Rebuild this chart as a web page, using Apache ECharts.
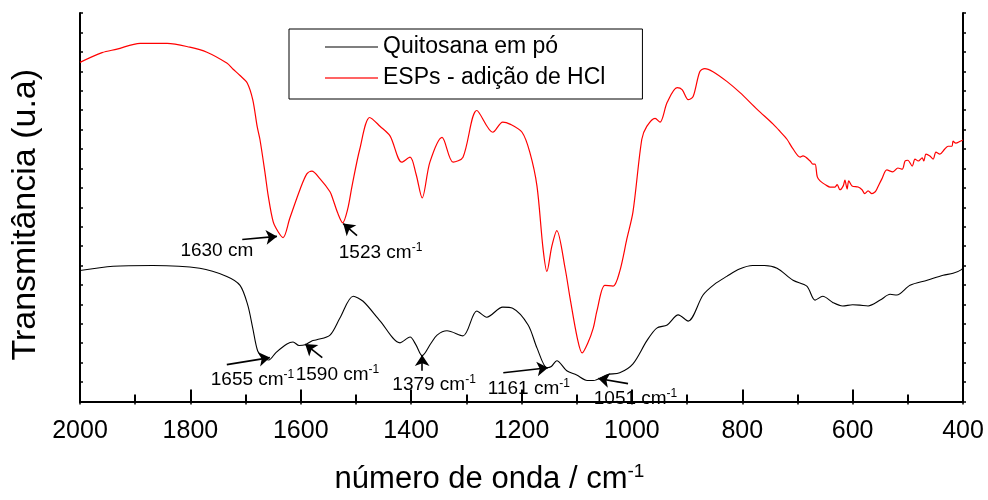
<!DOCTYPE html>
<html>
<head>
<meta charset="utf-8">
<script src="https://cdn.jsdelivr.net/npm/echarts@6/dist/echarts.min.js"></script>
<style>html,body{margin:0;padding:0;background:#fff;}#c{width:988px;height:500px;}</style>
</head>
<body>
<div id="c"></div>
<script>
// ---- data (wavenumber in cm-1, transmittance in arbitrary units) ----
const seriesNames = ['Quitosana em pó', 'ESPs - adição de HCl'];
const xTicks = [2000, 1800, 1600, 1400, 1200, 1000, 800, 600, 400];

const wnBlack = [2000,1940,1868,1783,1734,1710,1696,1687,1678,1668,1658,1645,1625,1614,1603,1592,1580,1571,1547,1529,1505,1487,1456,1420,1402,1391,1380,1364,1353,1335,1306,1281,1263,1234,1216,1188,1172,1154,1146,1136,1118,1100,1081,1070,1045,1022,998,973,955,936,916,898,871,850,828,805,781,760,737,708,683,668,654,636,618,600,587,572,550,532,520,496,465,436,418,402,400];
const tBlack  = [33.7,34.8,35.0,34.3,32.2,29.9,24.8,18.9,13.0,11.2,10.7,12.6,14.8,15.3,14.4,14.6,15.6,15.9,17.1,21.5,27.1,25.8,20.7,15.1,16.6,14.5,11.8,15.0,17.1,18.2,16.9,23.3,21.7,24.3,24.0,19.7,13.8,8.7,9.0,10.5,7.9,6.8,5.4,5.4,6.9,7.4,9.7,15.6,18.9,19.7,22.3,20.7,27.4,30.2,32.2,34.1,35.0,35.0,34.3,31.2,29.7,26.1,27.1,25.5,24.6,24.9,24.8,24.6,26.1,27.6,27.4,29.9,31.2,32.5,33.0,34.0,34.8];

const wnRed = [2000,1960,1933,1891,1842,1801,1770,1734,1723,1710,1697,1687,1679,1674,1665,1659,1650,1641,1632,1620,1601,1589,1580,1565,1547,1542,1533,1524,1515,1507,1493,1475,1456,1438,1417,1402,1391,1380,1366,1344,1324,1306,1281,1252,1234,1221,1199,1185,1172,1161,1154,1145,1136,1121,1112,1099,1090,1080,1070,1063,1049,1034,1022,1009,998,982,973,958,949,936,918,909,898,889,877,868,853,828,804,773,744,732,719,708,695,690,677,672,668,664,659,646,641,632,628,623,617,614,610,607,601,590,583,578,572,565,559,556,547,538,527,518,510,505,500,492,487,481,474,471,467,460,454,449,442,433,427,420,418,413,405,400];
const tRed  = [87.3,89.8,90.7,92.2,92.2,91.2,89.9,87.1,85.6,83.9,82.0,77.7,70.8,67.5,59.1,53.0,46.3,43.7,42.2,47.1,54.7,58.6,59.3,57.3,54.0,52.2,48.5,46.0,49.5,55.5,65.0,73.1,70.8,68.3,61.6,62.9,58.5,52.4,61.6,68.0,61.6,62.9,74.9,69.3,71.9,71.4,69.3,64.2,55.5,39.4,33.5,40.0,44.0,34.3,26.6,16.4,12.5,15.0,18.9,23.5,29.9,29.7,33.5,41.9,48.8,67.5,70.8,72.9,71.9,77.0,80.8,80.3,77.7,78.5,84.9,85.7,84.9,82.4,79.5,75.2,71.4,69.6,67.5,65.0,62.9,63.2,61.9,61.1,61.1,57.8,56.8,55.5,55.2,55.2,55.8,54.5,55.5,57.0,54.7,56.8,55.5,55.2,54.5,53.5,54.2,53.5,54.0,54.7,57.3,59.6,59.1,60.1,59.8,61.9,62.1,60.6,62.4,61.9,62.7,61.9,63.7,63.2,62.4,64.2,63.7,65.0,65.7,65.7,67.0,66.5,67.0,67.3];

// annotations: label text, superscript, text anchor (left edge, middle) and arrow from/to in data units
const annLabels = ['1630 cm', '1523 cm', '1655 cm', '1590 cm', '1379 cm', '1161 cm', '1051 cm'];
const annSup    = ['', '-1', '-1', '-1', '-1', '-1', '-1'];
const annAt     = [[1819,38.9],[1532,38.3],[1764,5.5],[1610,7.0],[1435,4.3],[1262,3.2],[1070,0.6]];
const arrFrom   = [[1706,41.7],[1498,42.7],[1734,9.5],[1561,11.3],[1380,7.9],[1233,7.4],[1007,4.6]];
const arrTo     = [[1643,42.5],[1523,45.8],[1656,11.3],[1592,14.8],[1380,12.0],[1152,8.7],[1061,5.9]];

// ---- build ----
const FONT = 'Liberation Sans, Arial, Helvetica, sans-serif';
const zip = (a, b) => a.map((v, i) => [v, b[i]]);

const chart = echarts.init(document.getElementById('c'), null, {renderer: 'canvas'});

const axisLine = {show: true, lineStyle: {color: '#000', width: 2}};

const option = {
  animation: false,
  backgroundColor: '#fff',
  textStyle: {fontFamily: FONT},
  grid: {left: 80, right: 25, top: 13, bottom: 96, containLabel: false},
  legend: {
    data: [
      {name: seriesNames[0], icon: 'rect', itemStyle: {color: '#555'}},
      {name: seriesNames[1], icon: 'rect', itemStyle: {color: '#ff3030'}}
    ],
    orient: 'vertical',
    left: 289, top: 29,
    borderColor: '#000', borderWidth: 1, borderRadius: 0,
    padding: [5, 37, 8, 36],
    itemWidth: 53, itemHeight: 1.5, itemGap: 5,
    textStyle: {fontSize: 23, lineHeight: 26, color: '#000', fontFamily: FONT},
    selectedMode: false
  },
  xAxis: [{
    type: 'value', position: 'bottom', inverse: true,
    min: 400, max: 2000, interval: 200,
    axisLine: axisLine,
    axisTick: {show: true, inside: true, length: 12, lineStyle: {color: '#000', width: 2}},
    minorTick: {show: true, splitNumber: 2, length: 7, lineStyle: {color: '#000', width: 2}},
    splitLine: {show: false},
    axisLabel: {show: true, fontSize: 25, color: '#000', margin: 17, fontFamily: FONT,
      formatter: v => xTicks.indexOf(v) >= 0 ? String(v) : ''},
    name: '{a|número de onda / cm}{s|-1}',
    nameLocation: 'middle', nameGap: 61,
    nameTextStyle: {color: '#000', padding: [0, 64, 0, 0], rich: {
      a: {fontSize: 31, color: '#000', fontFamily: FONT, lineHeight: 34},
      s: {fontSize: 19, color: '#000', fontFamily: FONT, verticalAlign: 'top', lineHeight: 18}
    }}
  }, {
    type: 'value', position: 'top', inverse: true,
    min: 400, max: 2000, interval: 100,
    axisLine: axisLine,
    axisTick: {show: true, inside: true, length: 3, lineStyle: {color: '#000', width: 1.5}},
    axisLabel: {show: false}, splitLine: {show: false}
  }],
  yAxis: [{
    type: 'value', position: 'left', min: 0, max: 100, interval: 5,
    axisLine: axisLine,
    axisTick: {show: true, inside: true, length: 3, lineStyle: {color: '#000', width: 1.5}},
    axisLabel: {show: false}, splitLine: {show: false},
    name: 'Transmitância (u.a)', nameLocation: 'middle', nameGap: 37, nameRotate: 90,
    nameTextStyle: {fontSize: 34, color: '#000', fontFamily: FONT, padding: [0, 15, 0, 0]}
  }, {
    type: 'value', position: 'right', min: 0, max: 100, interval: 5,
    axisLine: axisLine,
    axisTick: {show: true, inside: false, length: 3, lineStyle: {color: '#000', width: 1.5}},
    axisLabel: {show: false}, splitLine: {show: false}
  }],
  series: [{
    name: seriesNames[0], type: 'line', xAxisIndex: 0, yAxisIndex: 0,
    data: zip(wnBlack, tBlack), symbol: 'none', smooth: 0.3,
    lineStyle: {color: '#000', width: 1.1}, itemStyle: {color: '#000'}
  }, {
    name: seriesNames[1], type: 'line', xAxisIndex: 0, yAxisIndex: 0,
    data: zip(wnRed, tRed), symbol: 'none', smooth: 0.3,
    lineStyle: {color: '#ff0000', width: 1.2}, itemStyle: {color: '#ff0000'}
  }, {
    name: 'annotations', type: 'scatter', xAxisIndex: 0, yAxisIndex: 0, data: [],
    silent: true,
    markLine: {
      silent: true, animation: false,
      symbol: ['none', 'arrow'], symbolSize: 11,
      lineStyle: {color: '#000', width: 1.6, type: 'solid'},
      itemStyle: {color: '#000'},
      label: {show: false},
      emphasis: {disabled: true},
      data: arrFrom.map((f, i) => [{coord: f}, {coord: arrTo[i]}])
    },
    markPoint: {
      silent: true, animation: false,
      symbol: 'circle', symbolSize: 1,
      itemStyle: {color: 'rgba(0,0,0,0)'},
      label: {show: true, position: 'right', distance: 0, color: '#000'},
      data: annLabels.map((t, i) => ({
        coord: annAt[i],
        label: {
          formatter: '{a|' + t + '}' + (annSup[i] ? '{s|' + annSup[i] + '}' : ''),
          rich: {
            a: {fontSize: 19, color: '#000', fontFamily: FONT, lineHeight: 22},
            s: {fontSize: 12, color: '#000', fontFamily: FONT, verticalAlign: 'top', lineHeight: 12}
          }
        }
      }))
    }
  }]
};
chart.setOption(option);
</script>
</body>
</html>
